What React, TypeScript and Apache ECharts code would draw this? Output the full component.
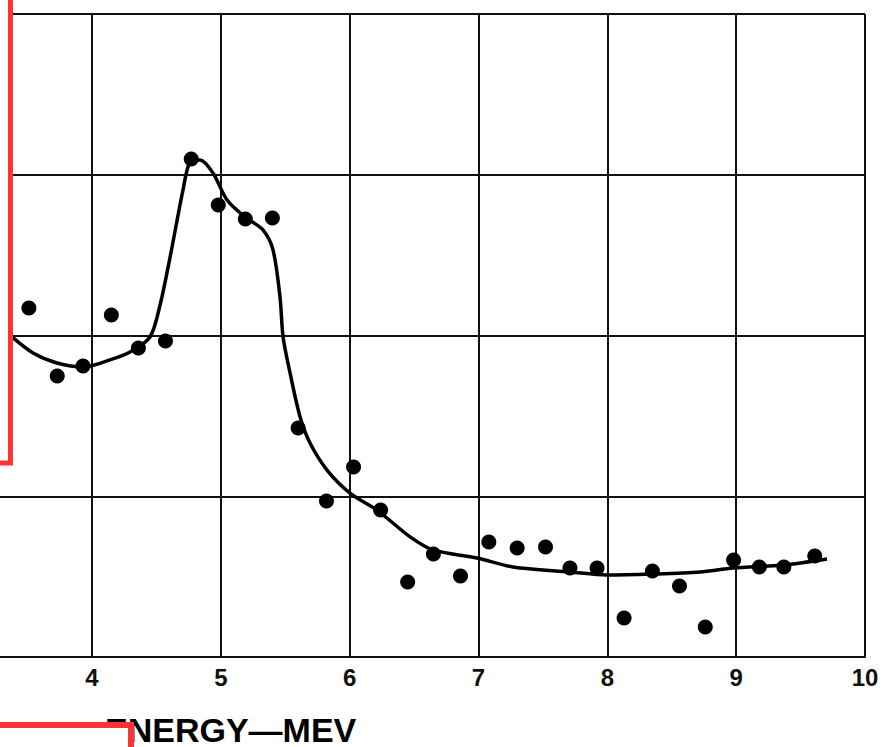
import React, { useEffect, useRef } from "react";
import * as echarts from "echarts";

// Measured data points (energy in MeV, value in grid units)
const pointEnergy = [3.51, 3.73, 3.93, 4.15, 4.36, 4.57, 4.77, 4.98, 5.19, 5.40, 5.60, 5.82, 6.03, 6.24, 6.45, 6.65, 6.86, 7.08, 7.30, 7.52, 7.71, 7.92, 8.13, 8.35, 8.56, 8.76, 8.98, 9.18, 9.37, 9.61];
const pointValue = [2.171, 1.748, 1.81, 2.128, 1.922, 1.966, 3.098, 2.812, 2.725, 2.731, 1.425, 0.97, 1.182, 0.914, 0.467, 0.641, 0.504, 0.715, 0.678, 0.684, 0.554, 0.554, 0.243, 0.535, 0.442, 0.187, 0.603, 0.56, 0.56, 0.628];

// Hand-drawn fitted curve
const curveEnergy = [3.379, 3.542, 3.728, 3.93, 4.139, 4.295, 4.45, 4.528, 4.606, 4.706, 4.761, 4.838, 4.939, 5.048, 5.188, 5.328, 5.405, 5.459, 5.483, 5.537, 5.615, 5.692, 5.824, 6.002, 6.212, 6.469, 6.647, 6.988, 7.268, 7.71, 7.997, 8.346, 8.719, 8.975, 9.363, 9.705];
const curveValue = [1.991, 1.891, 1.829, 1.804, 1.848, 1.897, 1.991, 2.19, 2.488, 2.905, 3.079, 3.092, 3.011, 2.843, 2.737, 2.656, 2.532, 2.24, 1.991, 1.767, 1.493, 1.331, 1.163, 1.02, 0.914, 0.747, 0.666, 0.616, 0.56, 0.529, 0.51, 0.516, 0.529, 0.554, 0.572, 0.61];

const xTicks = ["4", "5", "6", "7", "8", "9", "10"];
const axisTitle = "ENERGY\u2014MEV";

export default function App() {
  const ref = useRef<HTMLDivElement>(null);
  useEffect(() => {
    if (!ref.current) return;
    const chart = echarts.init(ref.current, null, { renderer: "svg" });
    const points = pointEnergy.map((x, i) => [x, pointValue[i]]);
    const curve = curveEnergy.map((x, i) => [x, curveValue[i]]);
    chart.setOption({
      animation: false,
      backgroundColor: "#ffffff",
      grid: { left: -36.8, right: 24, top: 14, bottom: 90, containLabel: false, outerBoundsMode: "none" },
      xAxis: {
        type: "value",
        min: 3,
        max: 10,
        interval: 1,
        axisLine: { show: true, lineStyle: { color: "#111", width: 2 } },
        axisTick: { show: false },
        splitLine: { show: true, lineStyle: { color: "#111", width: 2 } },
        axisLabel: {
          margin: 8,
          color: "#111",
          fontSize: 24,
          fontWeight: "bold",
          fontFamily: "Liberation Sans, Arial, sans-serif",
          formatter: (v: number) => (xTicks.includes(String(v)) ? String(v) : ""),
        },
      },
      yAxis: {
        type: "value",
        min: 0,
        max: 4,
        interval: 1,
        axisLine: { show: false },
        axisTick: { show: false },
        axisLabel: { show: false },
        splitLine: { show: true, lineStyle: { color: "#111", width: 2 } },
      },
      series: [
        {
          type: "line",
          data: curve,
          smooth: 0.3,
          showSymbol: false,
          lineStyle: { color: "#000", width: 3.5 },
          z: 3,
        },
        {
          type: "scatter",
          data: points,
          symbol: "circle",
          symbolSize: 15,
          itemStyle: { color: "#000", opacity: 1 },
          z: 4,
        },
      ],
      graphic: [
        {
          type: "text",
          left: 105,
          top: 713,
          z: 50,
          style: {
            text: axisTitle,
            fill: "#000",
            font: "bold 34px 'Liberation Sans', Arial, sans-serif",
            lineHeight: 24,
          },
        },
        {
          type: "rect",
          z: 100,
          shape: { x: -20, y: -20, width: 30.5, height: 483 },
          style: { fill: "#ffffff", stroke: "#ff3333", lineWidth: 5 },
        },
        {
          type: "rect",
          z: 100,
          shape: { x: -20, y: 725, width: 151, height: 60 },
          style: { fill: "#ffffff", stroke: "#ff3333", lineWidth: 6 },
        },
      ],
    });
    return () => chart.dispose();
  }, []);
  return (
    <div
      ref={ref}
      style={{ position: "fixed", left: 0, top: 0, width: 889, height: 747, background: "#fff" }}
    />
  );
}
